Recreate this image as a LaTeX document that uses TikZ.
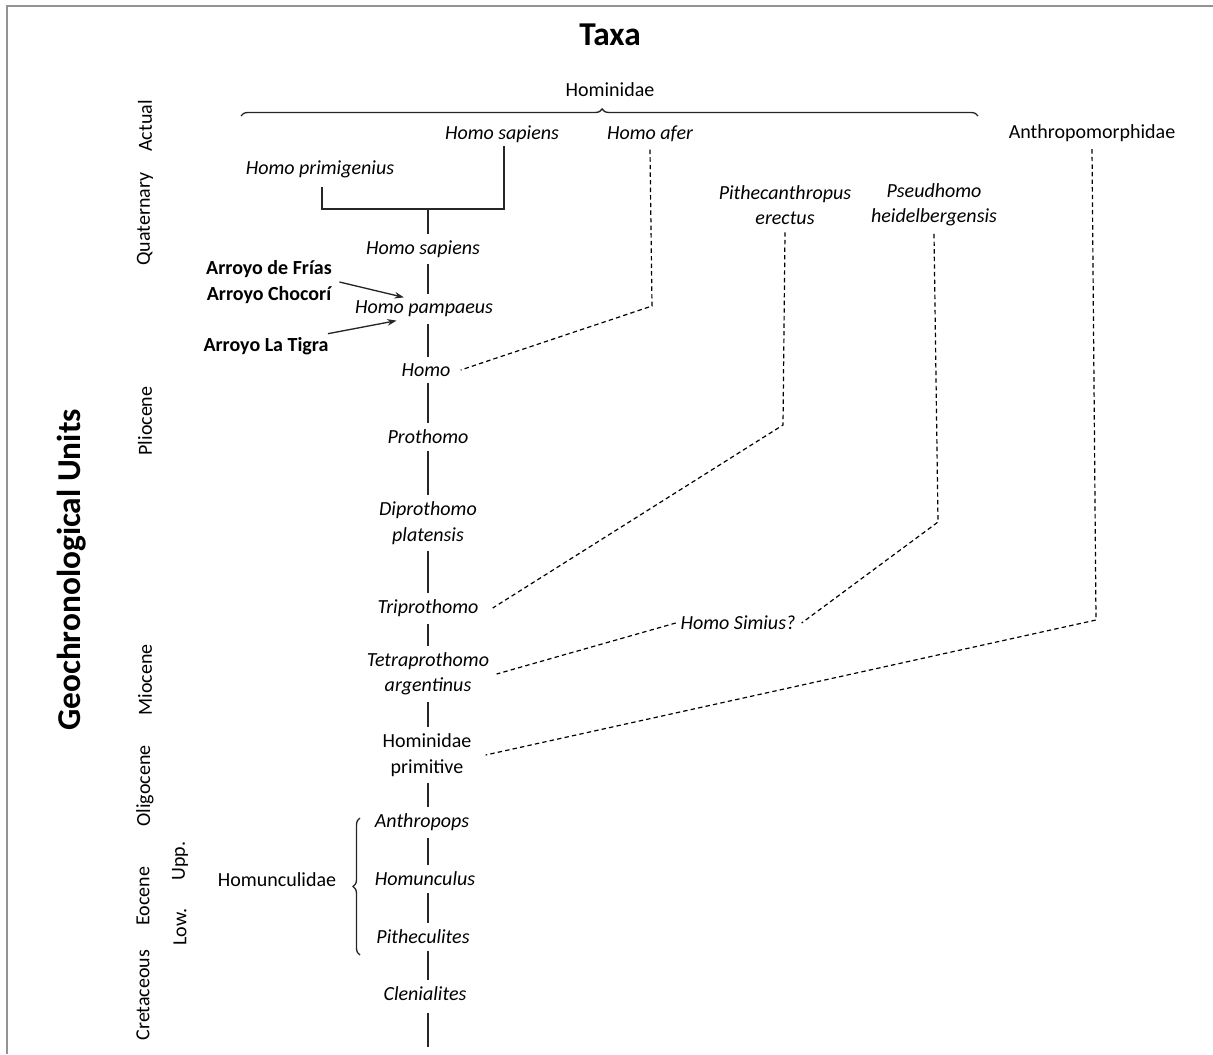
\documentclass[tikz,border=0pt]{standalone}
\usepackage{fontspec}
\setmainfont{Carlito}
\usetikzlibrary{arrows.meta,decorations.pathreplacing}
\begin{document}
\begin{tikzpicture}[x=0.75pt, y=-0.75pt,
    every node/.style={font=\fontsize{15}{19}\selectfont, inner sep=2.5pt},
    taxon/.style={font=\fontsize{15}{19}\selectfont\itshape, align=center},
    site/.style={font=\fontsize{15}{19}\selectfont\bfseries, align=center},
    period/.style={rotate=90},
    heading/.style={font=\fontsize{25}{30}\selectfont\bfseries},
    stem/.style={line width=1pt, black!85},
    link/.style={line width=0.9pt, dash pattern=on 3.3pt off 2.4pt},
    bracefig/.style={line width=1pt, black!85, decorate, decoration={brace, amplitude=5.25pt, aspect=#1}}]
    \useasboundingbox (0,0) rectangle (1213,1054);
    \draw[gray!85, line width=1.2pt] (7,1054) -- (7,6) -- (1213,6);
    % headings
    \node[heading] (taxa) at (610,35) {Taxa};
    \node[heading, rotate=90] (units) at (72,570) {Geochronological Units};
    % geochronological units
    \node[period] (actual) at (145,126) {Actual};
    \node[period] (quat) at (145,219) {Quaternary};
    \node[period] (plio) at (145,421) {Pliocene};
    \node[period] (mio) at (145,680) {Miocene};
    \node[period] (oligo) at (145,786) {Oligocene};
    \node[period] (eoc) at (143,896) {Eocene};
    \node[period] (cret) at (143,995) {Cretaceous};
    \node[period] (upp) at (180,861) {Upp.};
    \node[period] (low) at (180,927) {Low.};
    % families
    \node (hominidae) at (610,90) {Hominidae};
    \node (anthropom) at (1092,133) {Anthropomorphidae};
    \node (homuncul) at (277,880) {Homunculidae};
    \draw[bracefig=0.49] (241,116) -- (978,116);
    \draw[bracefig=0.5] (360,955) -- (360,818);
    % taxa
    \node[taxon] (hsapt) at (502,134) {Homo sapiens};
    \node[taxon] (hafer) at (650,134) {Homo afer};
    \node[taxon] (hprimg) at (320,169) {Homo primigenius};
    \node[taxon] (pithec) at (785,205) {Pithecanthropus\\erectus};
    \node[taxon] (pseud) at (934,205) {Pseudhomo\\heidelbergensis};
    \node[taxon] (hsapb) at (423,249) {Homo sapiens};
    \node[taxon] (hpam) at (424,309) {Homo pampaeus};
    \node[taxon] (homo) at (426,370) {Homo};
    \node[taxon] (proth) at (428,437) {Prothomo};
    \node[taxon] (diproth) at (428,523) {Diprothomo\\platensis};
    \node[taxon] (triproth) at (428,608) {Triprothomo};
    \node[taxon] (tetraproth) at (428,674) {Tetraprothomo\\argentinus};
    \node[align=center] (hprimit) at (427,755) {Hominidae\\primitive};
    \node[taxon] (anthrops) at (422,822) {Anthropops};
    \node[taxon] (homunc) at (425,879) {Homunculus};
    \node[taxon] (pithecul) at (423,937) {Pitheculites};
    \node[taxon] (clenial) at (425,994) {Clenialites};
    \node[taxon] (hsimius) at (738,623) {Homo Simius?};
    % sites
    \node[site] (frias) at (269,282) {Arroyo de Frías\\Arroyo Chocorí};
    \node[site] (tigra) at (266,346) {Arroyo La Tigra};
    % main stem
    \coordinate (fork) at (428,209);
    \coordinate (root) at (428,1047);
    \draw[stem] (hprimg.south) ++(2,6) |- (fork) -| ([xshift=1.5pt]hsapt.south);
    \draw[stem, shorten >=2pt] (fork) -- (hsapb.north -| fork);
    \foreach \a/\b in {hsapb/hpam, hpam/homo, homo/proth, proth/diproth, diproth/triproth,
        triproth/tetraproth, tetraproth/hprimit, hprimit/anthrops, anthrops/homunc,
        homunc/pithecul, pithecul/clenial}
        \draw[stem, shorten <=2.5pt, shorten >=2.5pt] (\a.south -| root) -- (\b.north -| root);
    \draw[stem, shorten <=6pt] (clenial.south -| root) -- (root);
    % side branches
    \coordinate (aferbend) at (652,306);
    \coordinate (pithbend) at (783,425);
    \coordinate (pseudbend) at (938,522);
    \coordinate (anthbend) at (1096,620);
    \draw[link] ([yshift=-3pt]hafer.south) -- (aferbend) -- ([xshift=5pt]homo.east);
    \draw[link] ([yshift=-3pt]pithec.south) -- (pithbend) -- ([xshift=8pt]triproth.east);
    \draw[link] ([yshift=-3pt]pseud.south) -- (pseudbend) -- ([xshift=2pt]hsimius.east);
    \draw[link] ([xshift=-1pt]hsimius.west) -- ([xshift=3pt]tetraproth.east);
    \draw[link] ([yshift=-3pt]anthropom.south) -- (anthbend) -- ([xshift=8pt]hprimit.east);
    % finds
    \draw[stem, -{Stealth[length=7pt, width=5pt]}] ([xshift=3pt]frias.east) -- (hpam.150);
    \draw[stem, -{Stealth[length=7pt, width=5pt]}] ([xshift=3pt]tigra.12) -- (hpam.203);
\end{tikzpicture}
\end{document}
